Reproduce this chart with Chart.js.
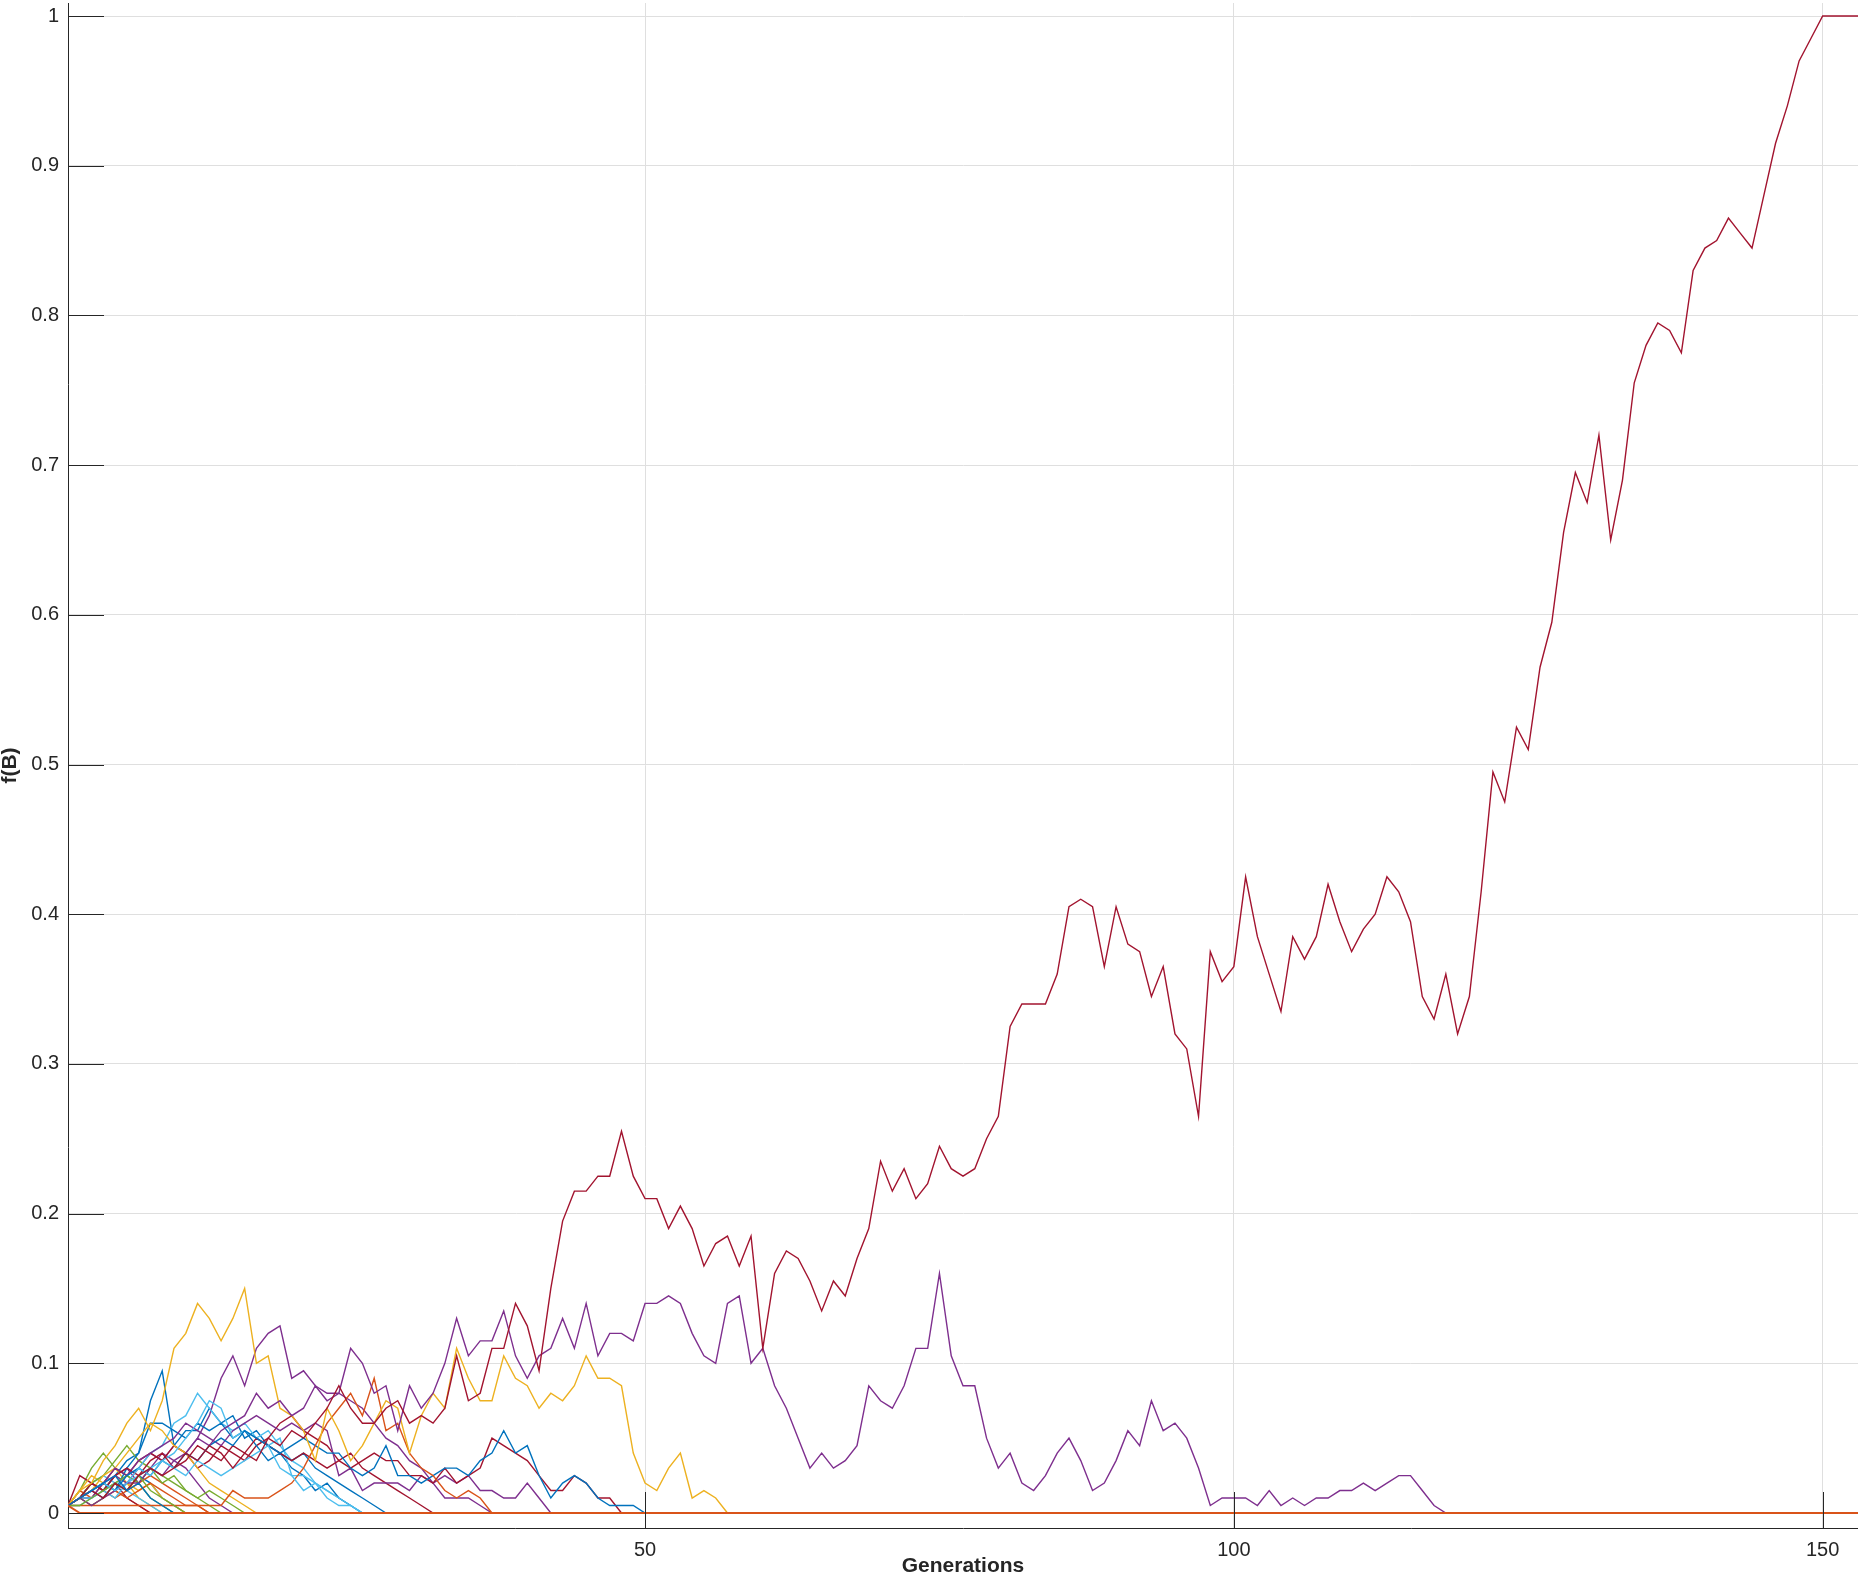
<!DOCTYPE html>
<html>
<head>
<meta charset="utf-8">
<script src="https://cdn.jsdelivr.net/npm/chart.js@4.4.1/dist/chart.umd.min.js"></script>
<style>
  html, body { margin: 0; padding: 0; background: #ffffff; }
  #wrap { width: 1858px; height: 1591px; }
</style>
</head>
<body>
<div id="wrap"><canvas id="c" width="1858" height="1591"></canvas></div>
<script>
// ---- data ----
const nGenerations = 153;
const xTicks = [50, 100, 150];
const xTickLabels = ['50', '100', '150'];
const yTicks = [0, 0.1, 0.2, 0.3, 0.4, 0.5, 0.6, 0.7, 0.8, 0.9, 1];
const yTickLabels = ['0', '0.1', '0.2', '0.3', '0.4', '0.5', '0.6', '0.7', '0.8', '0.9', '1'];
const xTitle = 'Generations';
const yTitle = 'f(B)';

// f(B) per generation, starting at generation 1 (after the last listed value the allele is lost / fixed)
const s01 = [0.005,0.01,0.015,0.01,0.02,0.015,0.025,0.02,0.01,0.005,0];
const s02 = [0.005,0.015,0.01,0.02,0.015,0.01,0.005,0];
const s03 = [0.005,0.01,0.02,0.015,0.025,0.02,0.01,0.005,0];
const s04 = [0.005,0.01,0.02,0.015,0.025,0.03,0.02,0.03,0.04,0.035,0.03,0.02,0.01,0.005,0];
const s05 = [0.005,0.015,0.03,0.04,0.03,0.025,0.02,0.01,0.005,0];
const s06 = [0.005,0.01,0.02,0.025,0.02,0.015,0.01,0.005,0];
const s07 = [0.005,0.025,0.02,0.015,0.02,0.01,0.005,0];
const s08 = [0.005,0.01,0.02,0.015,0.025,0.035,0.04,0.075,0.095,0.045,0.055,0.055,0.07,0.06,0.065,0.05,0.055,0.045,0.04,0.035,0.04,0.03,0.025,0.02,0.015,0.01,0.005,0];
const s09 = [0.005,0.01,0.02,0.015,0.01,0.015,0.02,0.025,0.02,0.015,0.01,0.005,0];
const s10 = [0.005,0.015,0.025,0.02,0.03,0.02,0.015,0.02,0.01,0.005,0];
const s11 = [0.005,0.01,0.01,0.02,0.025,0.02,0.03,0.04,0.035,0.045,0.04,0.05,0.065,0.09,0.105,0.085,0.11,0.12,0.125,0.09,0.095,0.085,0.08,0.08,0.075,0.07,0.06,0.05,0.045,0.035,0.03,0.02,0.01,0.01,0.01,0.005,0];
const s12 = [0.005,0.01,0.02,0.025,0.035,0.045,0.035,0.03,0.02,0.025,0.015,0.01,0.005,0];
const s13 = [0.005,0.01,0.01,0.015,0.02,0.025,0.03,0.04,0.045,0.06,0.065,0.08,0.07,0.06,0.055,0.06,0.05,0.055,0.045,0.035,0.03,0.02,0.015,0.01,0.005,0];
const s14 = [0.005,0.01,0.015,0.02,0.03,0.025,0.035,0.04,0.035,0.045,0.04,0.03,0.035,0.045,0.04,0.035,0.045,0.05,0.06,0.065,0.055,0.05,0.045,0.035,0.04,0.03,0.025,0.02,0.015,0.01,0.005,0];
const s15 = [0.005,0.01,0.015,0.02,0.015,0.03,0.04,0.06,0.06,0.055,0.05,0.06,0.055,0.06,0.05,0.055,0.045,0.035,0.04,0.03,0.025,0.015,0.02,0.01,0.005,0];
const s16 = [0.005,0.01,0.005,0.01,0.015,0.01,0.015,0.02,0.015,0.01,0.005,0.005,0];
const s17 = [0.005,0.01,0.015,0.025,0.03,0.04,0.05,0.06,0.055,0.045,0.04,0.03,0.02,0.015,0.01,0.005,0];
const s18 = [0.005,0.01,0.015,0.02,0.03,0.025,0.035,0.04,0.045,0.05,0.06,0.055,0.05,0.045,0.055,0.06,0.065,0.06,0.055,0.06,0.055,0.06,0.055,0.025,0.03,0.015,0.02,0.02,0.02,0.015,0.025,0.02,0.025,0.02,0.025,0.015,0.015,0.01,0.01,0.02,0.01,0];
const s19 = [0.005,0.01,0.005,0.01,0.02,0.025,0.02,0.03,0.025,0.02,0.015,0.01,0.015,0.01,0.005,0];
const s20 = [0.005,0.005,0.01,0.015,0.01,0.02,0.025,0.03,0.035,0.04,0.05,0.06,0.075,0.07,0.05,0.055,0.05,0.045,0.05,0.025,0.025,0.02,0.01,0.005,0.005,0];
const s21 = [0.005,0.01,0.02,0.015,0.025,0.03,0.025,0.035,0.04,0.03,0.035,0.045,0.04,0.035,0.045,0.04,0.05,0.045,0.04,0.035,0.04,0.035,0.03,0.035,0.03,0.035,0.04,0.035,0.035,0.025,0.025,0.02,0.03,0.02,0.025,0.03,0.05,0.045,0.04,0.035,0.025,0.015,0.015,0.025,0.02,0.01,0.01,0];
const s22 = [0.005,0.01,0.015,0.02,0.015,0.025,0.03,0.025,0.035,0.03,0.04,0.035,0.045,0.05,0.045,0.055,0.05,0.045,0.04,0.045,0.05,0.045,0.04,0.04,0.03,0.025,0.03,0.045,0.025,0.025,0.02,0.025,0.03,0.03,0.025,0.035,0.04,0.055,0.04,0.045,0.025,0.01,0.02,0.025,0.02,0.01,0.005,0.005,0.005,0];
const s23 = [0.005,0.005,0.005,0.005,0.005,0.005,0.005,0.005,0.005,0.005,0.005,0.005,0.005,0.005,0.015,0.01,0.01,0.01,0.015,0.02,0.03,0.045,0.06,0.07,0.08,0.065,0.09,0.055,0.06,0.04,0.03,0.025,0.015,0.01,0.015,0.01,0];
const s24 = [0.005,0.015,0.02,0.035,0.045,0.06,0.07,0.055,0.075,0.11,
             0.12,0.14,0.13,0.115,0.13,0.15,0.10,0.105,0.07,0.065,
             0.055,0.035,0.07,0.055,0.035,0.045,0.06,0.075,0.07,0.04,
             0.065,0.08,0.07,0.11,0.09,0.075,0.075,0.105,0.09,0.085,
             0.07,0.08,0.075,0.085,0.105,0.09,0.09,0.085,0.04,0.02,
             0.015,0.03,0.04,0.01,0.015,0.01,0];
const s25 = [0.005,0.01,0.005,0.01,0.015,0.02,0.02,0.03,0.025,0.035,
             0.04,0.05,0.045,0.055,0.06,0.065,0.08,0.07,0.075,0.065,
             0.07,0.085,0.075,0.08,0.11,0.10,0.08,0.085,0.055,0.085,
             0.07,0.08,0.10,0.13,0.105,0.115,0.115,0.135,0.105,0.09,
             0.105,0.11,0.13,0.11,0.14,0.105,0.12,0.12,0.115,0.14,
             0.14,0.145,0.14,0.12,0.105,0.10,0.14,0.145,0.10,0.11,
             0.085,0.07,0.05,0.03,0.04,0.03,0.035,0.045,0.085,0.075,
             0.07,0.085,0.11,0.11,0.16,0.105,0.085,0.085,0.05,0.03,
             0.04,0.02,0.015,0.025,0.04,0.05,0.035,0.015,0.02,0.035,
             0.055,0.045,0.075,0.055,0.06,0.05,0.03,0.005,0.01,0.01,
             0.01,0.005,0.015,0.005,0.01,0.005,0.01,0.01,0.015,0.015,
             0.02,0.015,0.02,0.025,0.025,0.015,0.005,0];
const s26 = [0.005,0.005,0.01,0.015,0.02,0.015,0.025,0.015,0.01,0.005,0];
const s27 = [0.005,0.01,0.015,0.02,0.015,0.02,0.03,0.025,0.035,0.03,0.025,0.035,0.03,0.025,0.03,0.035,0.04,0.045,0.03,0.025,0.015,0.02,0.015,0.01,0.005,0];
const s28 = [0.005,0.01,0.015,0.01,0.02,0.015,0.025,0.03,0.025,0.03,
             0.04,0.035,0.045,0.04,0.03,0.04,0.035,0.05,0.045,0.055,
             0.05,0.06,0.07,0.085,0.07,0.06,0.06,0.07,0.075,0.06,
             0.065,0.06,0.07,0.105,0.075,0.08,0.11,0.11,0.14,0.125,
             0.095,0.15,0.195,0.215,0.215,0.225,0.225,0.255,0.225,0.21,
             0.21,0.19,0.205,0.19,0.165,0.18,0.185,0.165,0.185,0.11,
             0.16,0.175,0.17,0.155,0.135,0.155,0.145,0.17,0.19,0.235,
             0.215,0.23,0.21,0.22,0.245,0.23,0.225,0.23,0.25,0.265,
             0.325,0.34,0.34,0.34,0.36,0.405,0.41,0.405,0.365,0.405,
             0.38,0.375,0.345,0.365,0.32,0.31,0.265,0.375,0.355,0.365,
             0.425,0.385,0.36,0.335,0.385,0.37,0.385,0.42,0.395,0.375,
             0.39,0.40,0.425,0.415,0.395,0.345,0.33,0.36,0.32,0.345,
             0.415,0.495,0.475,0.525,0.51,0.565,0.595,0.655,0.695,0.675,
             0.72,0.65,0.69,0.755,0.78,0.795,0.79,0.775,0.83,0.845,
             0.85,0.865,0.855,0.845,0.88,0.915,0.94,0.97,0.985,1,
             1,1,1];
const s29 = [0.005,0.01,0.015,0.02,0.025,0.015,0.02,0.01,0.005,0];
const s30 = [0.005,0];

const seriesList = [s01,s02,s03,s04,s05,s06,s07,s08,s09,s10,s11,s12,s13,s14,s15,
                    s16,s17,s18,s19,s20,s21,s22,s23,s24,s25,s26,s27,s28,s29,s30];
const colorOrder = ['#0072BD','#D95319','#EDB120','#7E2F8E','#77AC30','#4DBEEE','#A2142F'];

// ---- build chart ----
const generations = Array.from({length: nGenerations}, (_, i) => i + 1);
function lastValue(vals) { return vals[vals.length - 1]; }
const datasets = seriesList.map((vals, i) => ({
  label: 'run ' + (i + 1),
  data: generations.map((g, k) => ({ x: g, y: k < vals.length ? vals[k] : lastValue(vals) })),
  borderColor: colorOrder[i % colorOrder.length],
  backgroundColor: colorOrder[i % colorOrder.length],
  borderWidth: i === seriesList.length - 1 ? 2 : 1.4,
  pointRadius: 0,
  tension: 0,
  fill: false,
  order: seriesList.length - i
}));

const axisColor = '#262626';
const innerTicks = {
  id: 'innerTicks',
  afterDraw(chart) {
    const { ctx, chartArea, scales } = chart;
    const len = 36;
    ctx.save();
    ctx.strokeStyle = axisColor;
    ctx.lineWidth = 1;
    scales.x.ticks.forEach(t => {
      const px = Math.round(scales.x.getPixelForValue(t.value)) + 0.5;
      ctx.beginPath();
      ctx.moveTo(px, chartArea.bottom);
      ctx.lineTo(px, chartArea.bottom - len);
      ctx.stroke();
    });
    scales.y.ticks.forEach(t => {
      const py = Math.round(scales.y.getPixelForValue(t.value)) + 0.5;
      ctx.beginPath();
      ctx.moveTo(chartArea.left, py);
      ctx.lineTo(chartArea.left + len, py);
      ctx.stroke();
    });
    ctx.restore();
  }
};

new Chart(document.getElementById('c'), {
  type: 'line',
  data: { datasets },
  options: {
    responsive: false,
    animation: false,
    devicePixelRatio: 1,
    layout: { padding: { top: 3, right: 0, bottom: 0, left: 0 } },
    plugins: { legend: { display: false }, tooltip: { enabled: false } },
    scales: {
      x: {
        type: 'linear',
        min: 1,
        max: nGenerations,
        afterBuildTicks: s => { s.ticks = xTicks.map(v => ({ value: v })); },
        afterFit: s => { s.height = 63; s.paddingLeft = 0; s.paddingRight = 0; },
        grid: { color: '#dfdfdf', lineWidth: 1, drawTicks: false },
        border: { color: axisColor, width: 1 },
        ticks: {
          padding: 10,
          maxRotation: 0,
          color: axisColor,
          font: { family: 'Liberation Sans', size: 20 },
          callback: v => xTickLabels[xTicks.indexOf(v)]
        },
        title: {
          display: true,
          text: xTitle,
          color: axisColor,
          font: { family: 'Liberation Sans', size: 21, weight: 'bold' },
          padding: { top: 0, bottom: 12 }
        }
      },
      y: {
        type: 'linear',
        min: -0.01002,
        max: 1.0087,
        afterBuildTicks: s => { s.ticks = yTicks.map(v => ({ value: v })); },
        afterFit: s => { s.width = 68; s.paddingTop = 0; s.paddingBottom = 0; },
        grid: { color: '#dfdfdf', lineWidth: 1, drawTicks: false },
        border: { color: axisColor, width: 1 },
        ticks: {
          padding: 9,
          color: axisColor,
          font: { family: 'Liberation Sans', size: 20 },
          callback: v => yTickLabels[yTicks.indexOf(v)]
        },
        title: {
          display: true,
          text: yTitle,
          color: axisColor,
          font: { family: 'Liberation Sans', size: 21, weight: 'bold', lineHeight: 1.0 },
          padding: { top: 0, bottom: 0 }
        }
      }
    }
  },
  plugins: [innerTicks]
});
</script>
</body>
</html>
